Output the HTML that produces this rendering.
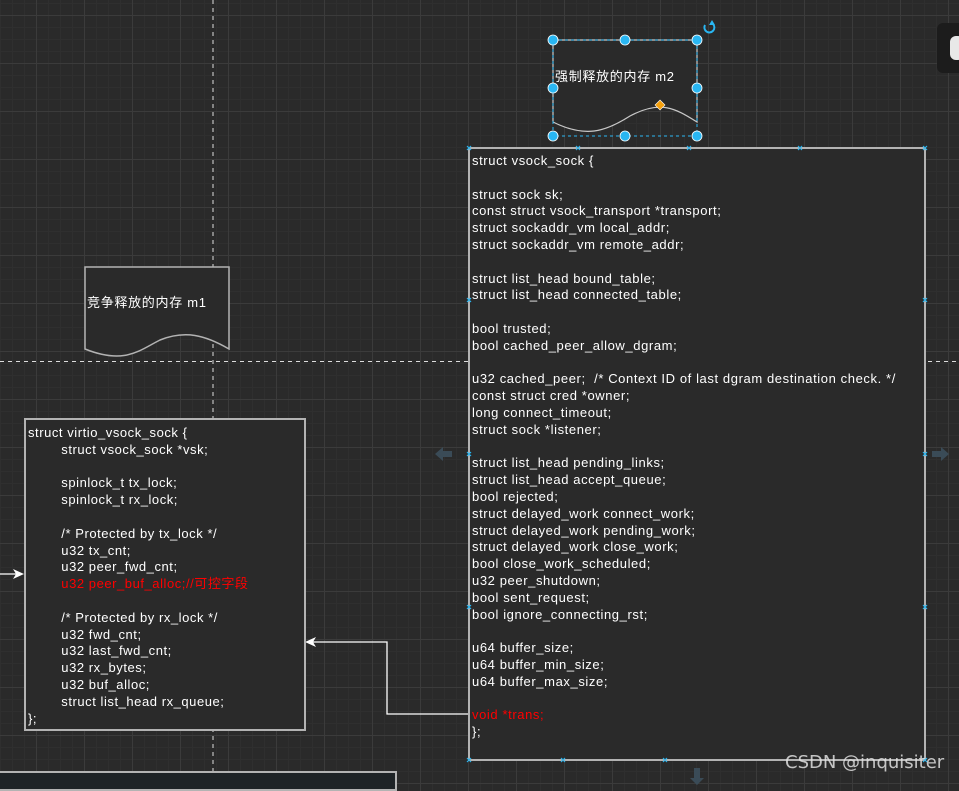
<!DOCTYPE html>
<html><head><meta charset="utf-8"><style>
html,body{margin:0;padding:0;}
body{width:959px;height:785px;overflow:hidden;position:relative;
background-color:#2a2a2a;
background-image:
linear-gradient(to right,#3b3b3b 1px,transparent 1px),
linear-gradient(to bottom,#3b3b3b 1px,transparent 1px),
linear-gradient(to right,#2f2f2f 1px,transparent 1px),
linear-gradient(to bottom,#2f2f2f 1px,transparent 1px);
background-size:48px 48px,48px 48px,12px 12px,12px 12px;
background-position:36px 0,0 15px,0 0,0 3px;
font-family:"Liberation Sans","Noto Sans CJK SC",sans-serif;}
.box{position:absolute;background:#2a2a2a;border:2px solid #b3b3b3;box-sizing:border-box;color:#fff;font-size:13px;line-height:16.8px;white-space:pre;letter-spacing:0.6px;}
.red{color:#ff0000;}
.t{position:absolute;color:#fff;font-size:13px;white-space:pre;letter-spacing:0.7px;}
</style></head><body>
<svg width="959" height="785" style="position:absolute;left:0;top:0">
<line x1="213" y1="0" x2="213" y2="785" stroke="#ddd" stroke-dasharray="4,4" stroke-width="1"/>
<line x1="0" y1="361.5" x2="959" y2="361.5" stroke="#ddd" stroke-dasharray="4,4" stroke-width="1"/>
<path d="M85,267 H229 V349 C205,335 185,330 160,340 C140,350 125,365 85,349 Z" fill="#2a2a2a" stroke="#b3b3b3" stroke-width="1.5"/>
<path d="M553,40 H697 V122 C675,108 660,100 630,116 C605,132 585,138 553,122 Z" fill="#2a2a2a" stroke="#c8c8c8" stroke-width="1.2"/>
<rect x="553" y="40" width="144" height="96" fill="none" stroke="#29b6f2" stroke-dasharray="3,3" stroke-width="1"/>
<g fill="#29b6f2" stroke="#fff" stroke-width="0.8">
<circle cx="553" cy="40" r="5"/><circle cx="625" cy="40" r="5"/><circle cx="697" cy="40" r="5"/>
<circle cx="553" cy="88" r="5"/><circle cx="697" cy="88" r="5"/>
<circle cx="553" cy="136" r="5"/><circle cx="625" cy="136" r="5"/><circle cx="697" cy="136" r="5"/>
</g>
<path d="M660,100 L665,105 L660,110 L655,105 Z" fill="#f5a00c" stroke="#fff" stroke-width="0.6"/>
<path d="M713,24 A5,5 0 1 1 705,25" fill="none" stroke="#29b6f2" stroke-width="2"/>
<path d="M712,20 L715,25 L709,25 Z" fill="#29b6f2"/>
<path d="M452,451 H443 V447 L435,454 L443,461 V457 H452 Z" fill="#3a4b57"/>
<path d="M932,451 H941 V447 L949,454 L941,461 V457 H932 Z" fill="#3a4b57"/>
<path d="M694,768 V778 H690 L697,785 L704,778 H700 V768 Z" fill="#3a4b57"/>
<polyline points="469,714 387,714 387,642 312,642" fill="none" stroke="#fff" stroke-width="1.3"/>
<path d="M305,642 L316,637 L313,642 L316,647 Z" fill="#fff"/>
<line x1="0" y1="574" x2="18" y2="574" stroke="#fff" stroke-width="1.3"/>
<path d="M24,574 L13,569 L16,574 L13,579 Z" fill="#fff"/>
</svg>
<div class="t" style="left:87px;top:292px;">竞争释放的内存 m1</div>
<div class="t" style="left:555px;top:66px;">强制释放的内存 m2</div>
<div class="box" style="left:468px;top:147px;width:458px;height:614px;padding:4px 0 0 2px;">struct vsock_sock {

struct sock sk;
const struct vsock_transport *transport;
struct sockaddr_vm local_addr;
struct sockaddr_vm remote_addr;

struct list_head bound_table;
struct list_head connected_table;

bool trusted;
bool cached_peer_allow_dgram;

u32 cached_peer;  /* Context ID of last dgram destination check. */
const struct cred *owner;
long connect_timeout;
struct sock *listener;

struct list_head pending_links;
struct list_head accept_queue;
bool rejected;
struct delayed_work connect_work;
struct delayed_work pending_work;
struct delayed_work close_work;
bool close_work_scheduled;
u32 peer_shutdown;
bool sent_request;
bool ignore_connecting_rst;

u64 buffer_size;
u64 buffer_min_size;
u64 buffer_max_size;

<span class="red">void *trans;</span>
};</div>
<svg width="959" height="785" style="position:absolute;left:0;top:0" fill="none" stroke="#29b6f2" stroke-width="1.2">
<path d="M467,146 l4,4 m0,-4 l-4,4 M576,146 l4,4 m0,-4 l-4,4 M687,146 l4,4 m0,-4 l-4,4 M798,146 l4,4 m0,-4 l-4,4 M923,146 l4,4 m0,-4 l-4,4"/>
<path d="M467,298 l4,4 m0,-4 l-4,4 M923,298 l4,4 m0,-4 l-4,4 M467,452 l4,4 m0,-4 l-4,4 M923,452 l4,4 m0,-4 l-4,4 M467,605 l4,4 m0,-4 l-4,4 M923,605 l4,4 m0,-4 l-4,4"/>
<path d="M467,758 l4,4 m0,-4 l-4,4 M561,758 l4,4 m0,-4 l-4,4 M663,758 l4,4 m0,-4 l-4,4 M923,758 l4,4 m0,-4 l-4,4"/>
</svg>
<div class="box" style="left:24px;top:418px;width:282px;height:313px;padding:5px 0 0 2px;letter-spacing:0.55px;">struct virtio_vsock_sock {
        struct vsock_sock *vsk;

        spinlock_t tx_lock;
        spinlock_t rx_lock;

        /* Protected by tx_lock */
        u32 tx_cnt;
        u32 peer_fwd_cnt;
<span class="red">        u32 peer_buf_alloc;//可控字段</span>

        /* Protected by rx_lock */
        u32 fwd_cnt;
        u32 last_fwd_cnt;
        u32 rx_bytes;
        u32 buf_alloc;
        struct list_head rx_queue;
};</div>
<div style="position:absolute;left:-2px;top:771px;width:399px;height:20px;background:#1e2326;border:2px solid #b3b3b3;box-sizing:border-box;"></div>
<div style="position:absolute;left:937px;top:23px;width:30px;height:50px;background:#1c1c1c;border-radius:6px;"></div>
<div style="position:absolute;left:950px;top:36px;width:14px;height:24px;background:#e8e8e8;border-radius:6px;"></div>
<div style="position:absolute;left:785px;top:752px;color:#e0e0e0;font-size:18px;font-family:'DejaVu Sans',sans-serif;opacity:0.85;">CSDN @inquisiter</div>
</body></html>
